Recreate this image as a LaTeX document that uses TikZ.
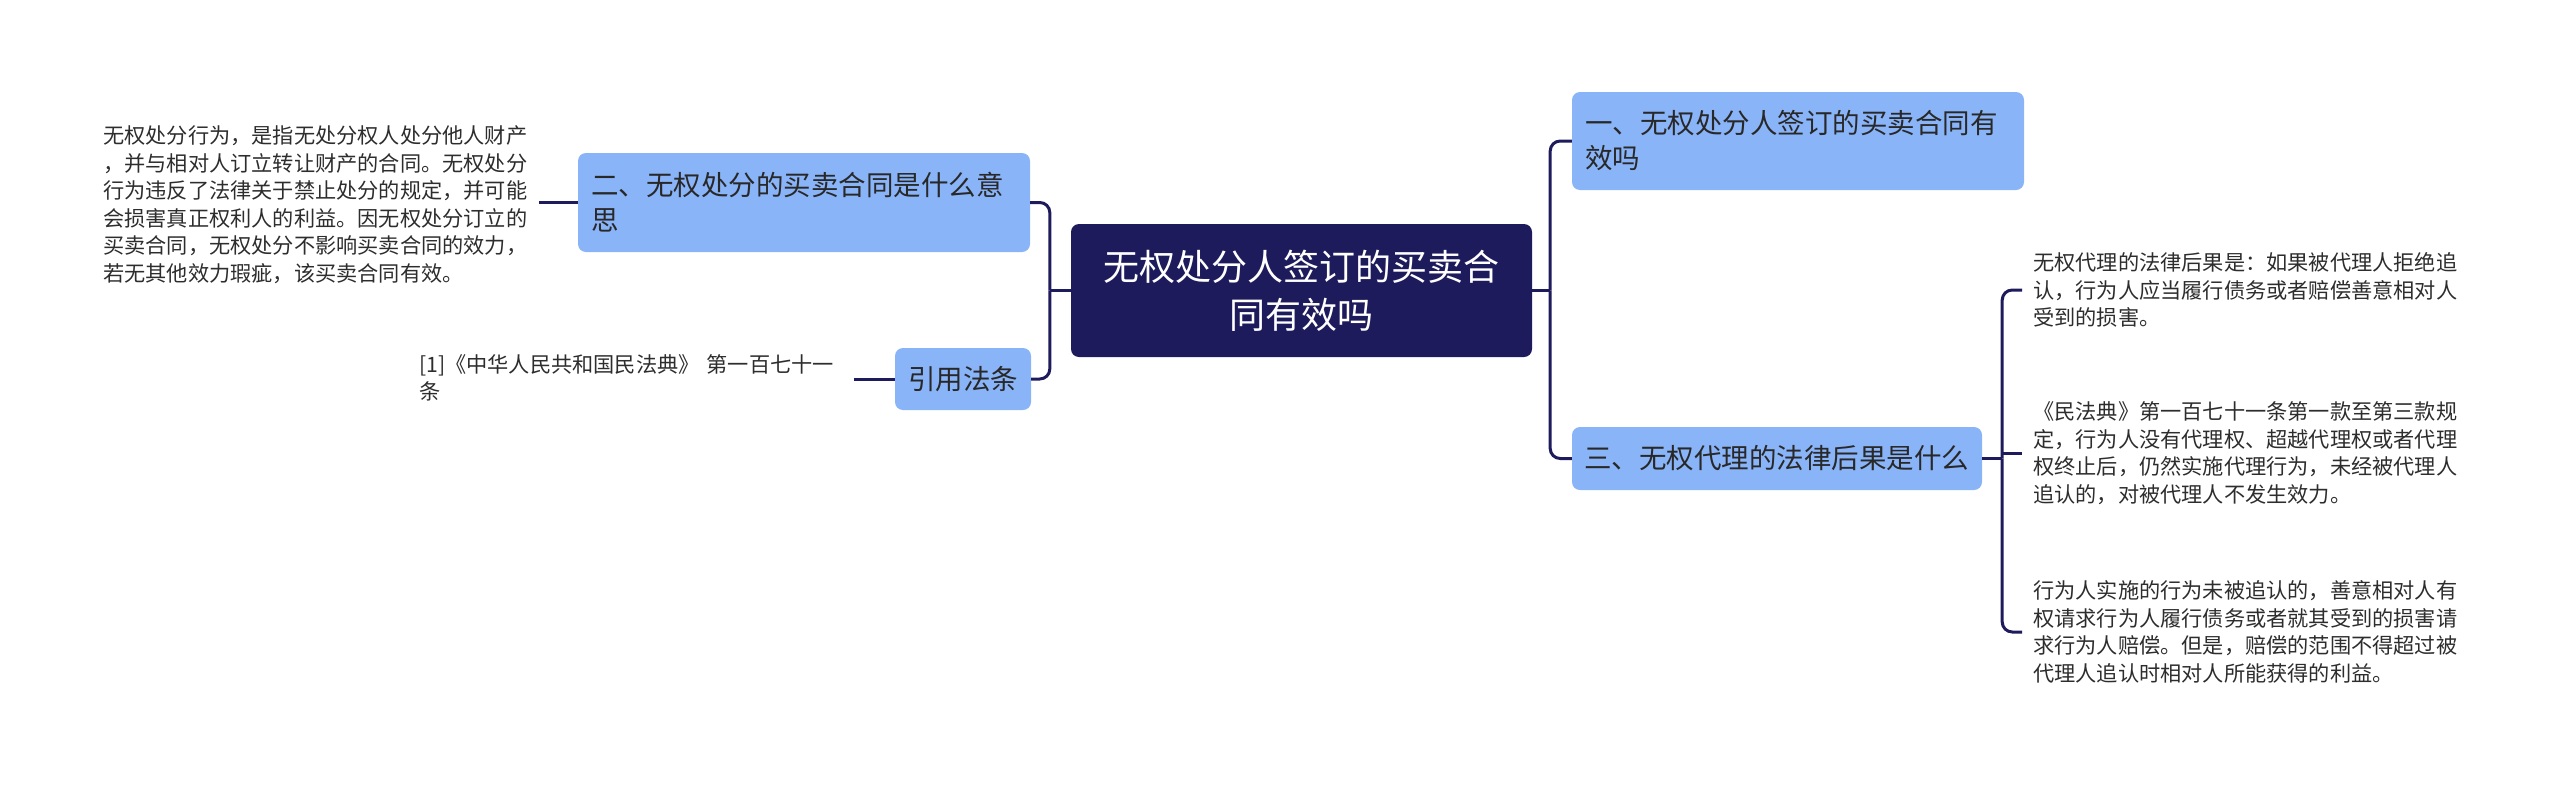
\documentclass[tikz,border=0pt]{standalone}
\usepackage{fontspec}
\newfontfamily\cjk{Noto Sans CJK SC}
\definecolor{navy}{RGB}{30,27,92}
\definecolor{lblue}{RGB}{138,180,248}
\definecolor{tdark}{RGB}{40,40,40}
\definecolor{tdet}{RGB}{45,45,45}
\tikzset{
  root/.style={fill=navy, rounded corners=8pt, text=white, align=center,
    font=\cjk\fontsize{36}{48}\selectfont, minimum width=461pt, minimum height=133pt, inner sep=0pt},
  branch/.style={fill=lblue, rounded corners=8pt, text=tdark, align=left,
    font=\cjk\fontsize{27.5}{35}\selectfont, inner xsep=13pt, inner ysep=0pt},
  detail/.style={text=tdet, align=left, font=\cjk\fontsize{21.2}{27.5}\selectfont,
    inner xsep=11pt, inner ysep=4pt, text width=425pt, anchor=west},
  conn/.style={draw=navy, line width=3pt, rounded corners=10pt},
}
\begin{document}
\begin{tikzpicture}[x=1pt,y=-1pt]
\useasboundingbox (0,0) rectangle (2560,785);
\node[root] (c) at (1301.5,290.5) {无权处分人签订的买卖合\\同有效吗};
\node[branch, text width=426pt, minimum height=98pt] (b1) at (1798,141) {一、无权处分人签订的买卖合同有\\效吗};
\node[branch, text width=426pt, minimum height=99pt] (b2) at (804,202.5) {二、无权处分的买卖合同是什么意\\思};
\node[branch, text width=386pt, inner xsep=12pt, minimum height=63pt] (b3) at (1777,458.5) {三、无权代理的法律后果是什么};
\node[branch, text width=110pt, align=center, minimum height=62pt] (b4) at (963,379) {引用法条};
\node[detail] (lt) at (92,204.5) {无权处分行为，是指无处分权人处分他人财产\\，并与相对人订立转让财产的合同。无权处分\\行为违反了法律关于禁止处分的规定，并可能\\会损害真正权利人的利益。因无权处分订立的\\买卖合同，无权处分不影响买卖合同的效力，\\若无其他效力瑕疵，该买卖合同有效。};
\node[detail, text width=424pt] (ct) at (408,378) {[1]《中华人民共和国民法典》 第一百七十一\\条};
\node[detail] (r1) at (2022,290) {无权代理的法律后果是：如果被代理人拒绝追\\认，行为人应当履行债务或者赔偿善意相对人\\受到的损害。};
\node[detail] (r2) at (2022,453) {《民法典》第一百七十一条第一款至第三款规\\定，行为人没有代理权、超越代理权或者代理\\权终止后，仍然实施代理行为，未经被代理人\\追认的，对被代理人不发生效力。};
\node[detail] (r3) at (2022,632) {行为人实施的行为未被追认的，善意相对人有\\权请求行为人履行债务或者就其受到的损害请\\求行为人赔偿。但是，赔偿的范围不得超过被\\代理人追认时相对人所能获得的利益。};
\coordinate (jl) at ([xshift=-21pt]c.west);
\coordinate (jr) at ([xshift=18pt]c.east);
\coordinate (j3) at ([xshift=20pt]b3.east);
\draw[conn] (c.west) -- (jl);
\draw[conn] (jl) |- (b2.east);
\draw[conn] (jl) |- (b4.east);
\draw[conn] (c.east) -- (jr);
\draw[conn] (jr) |- (b1.west);
\draw[conn] (jr) |- (b3.west);
\draw[conn] (b3.east) -- (j3);
\draw[conn] (j3) |- (r1.west);
\draw[conn] (j3) |- (r3.west);
\draw[conn] (j3 |- r2.west) -- (r2.west);
\draw[conn] (b2.west) -- (lt.east |- b2.west);
\draw[conn] (b4.west) -- (ct.east |- b4.west);
\end{tikzpicture}
\end{document}
